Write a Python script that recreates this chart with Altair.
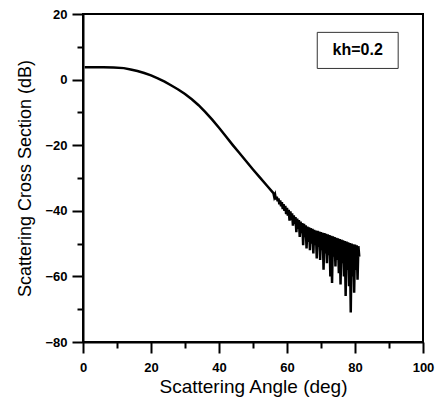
import altair as alt
import pandas as pd

# smooth part of the curve (angle in deg, cross section in dB)
smooth_x = [0.5, 3, 6, 9, 12, 14, 16, 18, 20, 22, 24, 26, 28, 30, 32, 34, 36, 38, 40,
            42, 44, 46, 48, 50, 52, 54]
smooth_y = [3.8, 3.8, 3.8, 3.7, 3.5, 3.1, 2.6, 2.0, 1.3, 0.4, -0.6, -1.8, -3.0, -4.4,
            -6.0, -7.8, -9.9, -12.2, -14.7, -17.3, -19.9, -22.4, -24.9, -27.4, -29.8, -32.2]

# oscillating part (every 0.25 deg, 56 .. 81.25)
osc_y = [
    -34.6, -35.8, -35.1, -36.6, -35.7, -37.1, -36.2, -38.0,
    -36.8, -38.6, -37.4, -39.5, -38.0, -40.0, -38.5, -41.0,
    -39.1, -41.5, -39.7, -43.0, -40.2, -42.8, -40.8, -44.5,
    -41.4, -44.0, -41.9, -46.5, -42.4, -45.5, -42.8, -48.0,
    -43.3, -46.8, -43.7, -50.5, -44.0, -48.0, -44.4, -51.5,
    -44.8, -49.5, -45.0, -52.0, -45.3, -50.0, -45.5, -53.0,
    -45.8, -50.5, -46.0, -54.5, -46.1, -51.0, -46.3, -55.0,
    -46.5, -52.0, -46.7, -58.0, -46.8, -53.0, -47.0, -56.0,
    -47.2, -53.5, -47.4, -60.0, -47.6, -62.0, -47.8, -54.0,
    -48.0, -57.0, -48.2, -55.0, -48.4, -59.0, -48.6, -62.5,
    -48.8, -56.0, -49.0, -60.0, -49.2, -66.0, -49.4, -58.0,
    -49.6, -63.0, -49.8, -71.0, -50.0, -60.0, -50.2, -65.0,
    -50.3, -58.0, -50.5, -61.0, -50.8, -54.0,
]
osc_x = [56 + 0.25 * i for i in range(len(osc_y))]

x_major = [0, 20, 40, 60, 80, 100]
x_minor = [10, 30, 50, 70, 90]
y_major = [-80, -60, -40, -20, 0, 20]
y_minor = [-70, -50, -30, -10, 10]

label_text = ["kh=0.2"]
box_x, box_x2 = [68.9], [92.7]
box_y, box_y2 = [3.4], [14.4]

df = pd.DataFrame({"angle": smooth_x + osc_x, "rcs": smooth_y + osc_y})
df["order"] = range(len(df))

FONT = "Liberation Sans"

xscale = alt.Scale(domain=[0, 100], nice=False, zero=False)
yscale = alt.Scale(domain=[-80, 20], nice=False, zero=False)

main_x_axis = alt.Axis(values=x_major, tickSize=11, tickWidth=2, domainWidth=2,
                       domainColor="black", tickColor="black", labelFont=FONT,
                       labelFontSize=13, labelFontWeight="bold", labelColor="black",
                       labelPadding=8, title="Scattering Angle (deg)", titleFont=FONT,
                       titleFontSize=19, titleFontWeight="normal", titleColor="black",
                       titlePadding=3, grid=False, labelFlush=False)
main_y_axis = alt.Axis(values=y_major, tickSize=11, tickWidth=2, domainWidth=2,
                       domainColor="black", tickColor="black", labelFont=FONT,
                       labelFontSize=13, labelFontWeight="bold", labelColor="black",
                       labelPadding=5, title="Scattering Cross Section (dB)", titleFont=FONT,
                       titleFontSize=18, titleFontWeight="normal", titleColor="black",
                       titlePadding=10, grid=False, labelFlush=False)

line = alt.Chart(df).mark_line(color="black", strokeWidth=2.5, strokeJoin="miter").encode(
    x=alt.X("angle:Q", scale=xscale, axis=main_x_axis),
    y=alt.Y("rcs:Q", scale=yscale, axis=main_y_axis),
    order="order:Q",
)

minor_df = pd.DataFrame({"mx": x_minor, "my": y_minor})
minor = alt.Chart(minor_df).mark_point(opacity=0).encode(
    x=alt.X("mx:Q", scale=xscale,
            axis=alt.Axis(values=x_minor, tickSize=6, tickWidth=2, labels=False,
                          domain=False, title=None, orient="bottom", tickColor="black",
                          grid=False)),
    y=alt.Y("my:Q", scale=yscale,
            axis=alt.Axis(values=y_minor, tickSize=6, tickWidth=2, labels=False,
                          domain=False, title=None, orient="left", tickColor="black",
                          grid=False)),
)

box_df = pd.DataFrame({"x": box_x, "x2": box_x2, "y": box_y, "y2": box_y2, "t": label_text})
box = alt.Chart(box_df).mark_rect(fill="white", stroke="#333333", strokeWidth=1).encode(
    x=alt.X("x:Q", scale=xscale, axis=None), x2="x2:Q",
    y=alt.Y("y:Q", scale=yscale, axis=None), y2="y2:Q",
)
text_df = pd.DataFrame({"tx": [(box_x[0] + box_x2[0]) / 2], "ty": [(box_y[0] + box_y2[0]) / 2],
                        "t": label_text})
txt = alt.Chart(text_df).mark_text(font=FONT, fontSize=16, fontWeight="bold", color="black",
                                   baseline="middle", align="center").encode(
    x=alt.X("tx:Q", scale=xscale, axis=None),
    y=alt.Y("ty:Q", scale=yscale, axis=None),
    text="t:N",
)

chart = alt.layer(line, minor, box, txt).resolve_axis(x="independent", y="independent").properties(
    width=340, height=328,
    autosize=alt.AutoSizeParams(type="none"),
    padding={"left": 83, "top": 14, "right": 12, "bottom": 62},
    background="white",
).configure_view(stroke="black", strokeWidth=2)

chart.save("out.html", embed_options={"renderer": "svg", "actions": False})
